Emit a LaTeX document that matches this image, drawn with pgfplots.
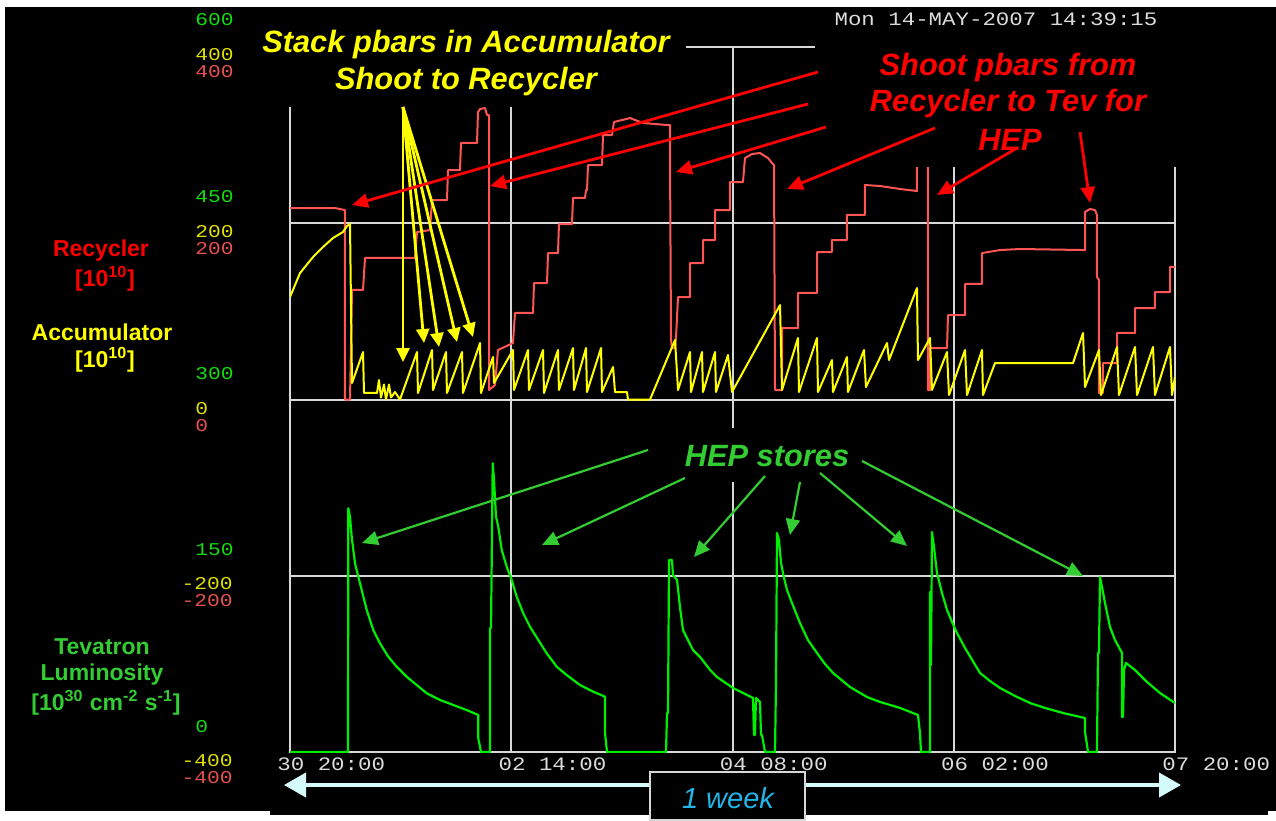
\documentclass[border=0pt]{standalone}
\usepackage{fontspec}
\setmainfont{Liberation Sans}
\setmonofont{Liberation Mono}
\usepackage{graphicx}
\usepackage{pgfplots}
\pgfplotsset{compat=1.18}
\usetikzlibrary{arrows.meta}
\definecolor{gridgray}{HTML}{D8D8D8}
\definecolor{ticklbl}{HTML}{DCDCDC}
\definecolor{datared}{HTML}{FF5555}
\definecolor{datayel}{HTML}{FFFF00}
\definecolor{datagrn}{HTML}{00EE00}
\definecolor{annred}{HTML}{FF0000}
\definecolor{annyel}{HTML}{FFFF00}
\definecolor{anngrn}{HTML}{33CC33}
\definecolor{tickgrn}{HTML}{11DD11}
\definecolor{tickyel}{HTML}{E0E000}
\definecolor{tickred}{HTML}{E85050}
\definecolor{weekcyan}{HTML}{22B4E6}
\definecolor{arrcyan}{HTML}{D4FAFA}
\newcommand\mono[2]{{\ttfamily\fontsize{#1}{#1}\selectfont\scalebox{1.18}[1]{#2}}}
\newcommand\bigtxt[1]{{\bfseries\itshape\fontsize{15.4}{17}\selectfont #1}}
\newcommand\lab[1]{{\bfseries\fontsize{11.5}{13}\selectfont #1}}
\begin{document}
\begin{tikzpicture}
\begin{scope}[x=0.5pt,y=-0.5pt]
\fill[white] (0,0) rectangle (1276,815);
\useasboundingbox (0,0) rectangle (1276,815);
\fill[black] (5,7) rectangle (1276,811);
\fill[black] (270,805) rectangle (1268,815);
\end{scope}

\begin{axis}[at={(145pt,-376pt)}, anchor=south west, scale only axis,
  width=442.5pt, height=352.5pt, xmin=0, xmax=168, ymin=-400, ymax=400,
  axis line style={draw=gridgray, line width=1pt},
  xtick={0,42,84,126,168},
  xticklabels={\mono{9.5}{30 20:00},\mono{9.5}{02 14:00},\mono{9.5}{04 08:00},\mono{9.5}{06 02:00},\mono{9.5}{07 20:00}},
  ytick={-200,0,200}, yticklabels={},
  grid=major, grid style={draw=gridgray, line width=1pt},
  major tick length=0pt,
  x tick label style={anchor=west, inner sep=0pt, xshift=-6.5pt, yshift=-6pt, text=ticklbl},
  clip=true]
\addplot[datared, line width=1pt, line join=round] coordinates {
(0,217.3) (8.54,217.3) (10.44,215.0) (10.44,0) (11.39,0) (11.77,124.3) (13.86,124.3) (14.24,160.6) (23.73,160.6) (24.11,190.1) (26.58,192.3) (26.96,226.4) (29.80,226.4) (29.99,260.4) (32.27,260.4) (32.46,291.1) (35.50,291.1) (35.69,326.2) (36.07,329.6) (37.02,330.8) (37.40,322.8) (37.78,322.8) (37.78,10.8) (38.92,16.5) (39.48,56.2) (42.33,64.1) (42.71,98.2) (46.13,98.2) (46.32,132.2) (48.79,132.2) (48.98,166.2) (50.87,166.2) (51.06,199.1) (53.53,199.1) (53.72,228.7) (56.00,228.7) (56.19,237.7) (56.38,237.7) (56.57,266.1) (59.23,266.1) (59.42,300.1) (61.13,300.1) (61.50,314.9) (64.54,319.4) (67.01,313.8) (71.57,311.5) (72.14,311.5) (72.14,271.8) (72.33,67.5) (72.51,58.4) (73.09,58.4) (73.28,70.9) (73.66,116.3) (75.93,116.3) (75.93,154.9) (78.40,154.9) (78.40,181.0) (80.68,181.0) (80.68,215.0) (83.52,215.0) (83.52,246.8) (85.99,246.8) (86.37,274.0) (87.70,278.6) (89.22,279.7) (90.74,274.0) (91.50,268.4) (91.88,266.1) (92.07,10.8) (93.40,10.8) (93.40,81.1) (96.43,81.1) (96.43,120.9) (100.04,120.9) (100.04,167.4) (102.88,167.4) (102.88,181.0) (105.73,181.0) (105.73,209.4) (109.15,209.4) (109.15,243.4) (112.00,242.3) (115.80,238.9) (119.02,236.6) (119.02,283.1) (121.11,283.1) (121.11,10.8) (121.49,10.8) (121.49,58.4) (124.72,58.4) (124.91,95.9) (128.14,95.9) (128.14,131.1) (131.36,131.1) (131.36,166.2) (134.78,169.6) (138.58,170.8) (150.92,169.6) (150.92,212.8) (151.86,216.2) (152.81,215.0) (153.19,209.4) (153.19,139.0) (153.57,135.6) (153.57,7.4) (154.33,7.4) (154.33,41.4) (156.99,41.4) (156.99,75.5) (160.41,75.5) (160.41,103.8) (164.20,103.8) (164.20,122.0) (167.05,122.0) (167.05,150.4) (168,150.4)
};
\addplot[datayel, line width=1pt, line join=round] coordinates {
(0,116.3) (1.90,143.5) (4.37,161.7) (6.26,173.0) (8.16,183.3) (10.06,190.1) (10.82,196.9) (11.39,199.1) (11.58,107.2) (11.77,18.7) (13.86,53.9) (14.05,7.4) (16.52,7.4) (16.89,22.1) (17.27,2.3) (17.84,17.0) (18.22,0) (18.79,17.0) (19.17,2.3) (19.93,8.5) (20.88,0) (24.11,53.9) (24.30,7.4) (26.96,56.2) (27.15,10.8) (29.61,53.9) (29.80,7.4) (32.65,53.9) (32.84,7.4) (36.07,64.1) (36.26,7.4) (38.54,48.2) (38.73,18.7) (42.33,56.2) (42.52,10.8) (45.18,56.2) (45.37,10.8) (48.03,56.2) (48.22,7.4) (50.87,56.2) (51.06,10.8) (53.72,58.4) (53.91,10.8) (56.19,58.4) (56.38,8.5) (59.04,58.4) (59.23,8.5) (61.32,36.9) (61.70,8.5) (63.97,8.5) (64.16,0) (68.34,0) (73.09,67.5) (73.66,10.8) (75.93,53.9) (76.12,8.5) (78.21,53.9) (78.40,8.5) (80.68,53.9) (80.87,8.5) (83.14,50.5) (83.90,8.5) (93.02,107.2) (93.40,10.8) (96.43,69.8) (96.62,8.5) (100.04,69.8) (100.23,8.5) (102.88,44.8) (103.08,8.5) (105.73,48.2) (105.92,8.5) (108.96,56.2) (109.34,14.2) (113.33,64.1) (113.71,44.8) (119.02,126.5) (119.21,44.8) (121.49,69.8) (121.87,10.8) (124.72,53.9) (125.10,5.1) (128.14,56.2) (128.52,5.1) (131.36,56.2) (131.55,5.1) (133.83,41.4) (148.64,41.4) (150.54,75.5) (150.92,14.2) (153.57,56.2) (153.95,5.1) (156.99,59.6) (157.37,5.1) (160.41,59.6) (160.79,5.1) (163.82,59.6) (164.20,5.1) (167.05,59.6) (167.43,5.1) (168,25.6)
};
\end{axis}

\begin{axis}[at={(145pt,-376pt)}, anchor=south west, scale only axis,
  width=442.5pt, height=352.5pt, xmin=0, xmax=168, ymin=0, ymax=600,
  hide axis, clip=true]
\addplot[datagrn, line width=1.1pt, line join=round] coordinates {
(0,0) (11.01,0) (11.07,207.4) (11.39,200.3) (11.71,183.2) (12.34,160.6) (12.97,149.2) (13.61,137.9) (14.56,120.9) (15.81,103.8) (17.08,92.5) (18.66,81.1) (20.25,72.6) (22.15,64.1) (24.05,57.0) (25.95,50.0) (28.47,44.3) (31.00,40.0) (33.54,35.7) (35.74,31.5) (35.74,11.9) (36.26,0) (37.97,0) (37.97,105.6) (38.16,105.6) (38.48,245.7) (38.73,231.5) (39.10,200.3) (39.54,191.8) (40.19,171.9) (41.14,157.7) (42.09,146.4) (43.03,132.2) (44.29,118.0) (45.56,106.6) (47.14,95.3) (48.73,84.0) (50.63,72.6) (52.53,65.5) (55.05,57.0) (57.58,51.3) (59.80,47.1) (59.80,16.2) (60.18,0) (71.38,0) (71.57,33.2) (71.76,33.2) (71.95,163.4) (72.51,163.4) (72.70,150.6) (73.47,146.4) (74.03,123.4) (74.60,103.8) (75.55,95.3) (76.50,86.8) (77.83,80.9) (79.76,69.8) (81.06,63.8) (84.09,54.5) (87.89,46.0) (88.08,14.5) (88.27,14.5) (88.46,46.0) (89.22,42.6) (89.41,14.5) (89.60,14.5) (90.17,0) (92.07,0) (92.26,61.3) (92.45,186.4) (92.83,180.4) (93.21,160.9) (93.78,148.1) (94.35,137.9) (95.29,126.8) (96.81,109.8) (98.33,95.3) (100.04,84.3) (101.56,74.9) (103.08,67.3) (106.31,55.3) (109.53,46.8) (112.00,42.6) (115.80,37.5) (118.26,33.2) (119.21,31.5) (119.59,16.2) (119.78,0) (121.49,0) (121.49,136.2) (121.68,74.0) (121.87,187.2) (122.25,174.5) (122.82,152.3) (123.77,135.3) (124.72,120.9) (125.67,110.6) (126.61,101.3) (128.14,88.5) (130.98,67.3) (132.88,60.4) (134.78,54.5) (137.63,47.7) (140.47,41.7) (143.32,37.5) (146.74,33.2) (150.92,28.9) (150.92,17.0) (151.49,0) (153.19,0) (153.38,84.3) (153.57,84.3) (153.76,148.9) (154.14,140.4) (154.71,126.8) (155.66,106.4) (156.61,95.3) (157.94,84.3) (157.94,29.8) (158.13,29.8) (158.32,69.8) (158.70,75.8) (160.41,69.8) (162.69,59.6) (165.15,50.2) (168,41.7)
};
\end{axis}

\begin{scope}[x=0.5pt,y=-0.5pt]
% covering boxes
\fill[black] (255,22) rectangle (686,107);
\fill[black] (815,40) rectangle (1180,167);
\fill[black] (680,428) rectangle (858,482);
% left tick labels
\node[anchor=west, inner sep=0pt, text=tickgrn] at (195,20) {\mono{9}{600}};
\node[anchor=west, inner sep=0pt, text=tickyel] at (195,55) {\mono{9}{400}};
\node[anchor=west, inner sep=0pt, text=tickred] at (195,72) {\mono{9}{400}};
\node[anchor=west, inner sep=0pt, text=tickgrn] at (195,197) {\mono{9}{450}};
\node[anchor=west, inner sep=0pt, text=tickyel] at (195,232) {\mono{9}{200}};
\node[anchor=west, inner sep=0pt, text=tickred] at (195,249) {\mono{9}{200}};
\node[anchor=west, inner sep=0pt, text=tickgrn] at (195,374) {\mono{9}{300}};
\node[anchor=west, inner sep=0pt, text=tickyel] at (195,409) {\mono{9}{0}};
\node[anchor=west, inner sep=0pt, text=tickred] at (195,426) {\mono{9}{0}};
\node[anchor=west, inner sep=0pt, text=tickgrn] at (195,550) {\mono{9}{150}};
\node[anchor=east, inner sep=0pt, text=tickyel] at (233,584) {\mono{9}{-200}};
\node[anchor=east, inner sep=0pt, text=tickred] at (233,601) {\mono{9}{-200}};
\node[anchor=west, inner sep=0pt, text=tickgrn] at (195,727) {\mono{9}{0}};
\node[anchor=east, inner sep=0pt, text=tickyel] at (233,761) {\mono{9}{-400}};
\node[anchor=east, inner sep=0pt, text=tickred] at (233,778) {\mono{9}{-400}};
% date
\node[inner sep=0pt, text=ticklbl] at (996,19) {\mono{9.5}{Mon 14-MAY-2007 14:39:15}};
% left labels
\node[text=annred] at (101,251) {\lab{Recycler}};
\node[text=annred] at (105,279) {\lab{[10\textsuperscript{10}]}};
\node[text=annyel] at (102,332) {\lab{Accumulator}};
\node[text=annyel] at (105,360) {\lab{[10\textsuperscript{10}]}};
\node[text=anngrn] at (102,647) {\lab{Tevatron}};
\node[text=anngrn] at (102,675) {\lab{Luminosity}};
\node[text=anngrn] at (106,703) {\lab{[10\textsuperscript{30} cm\textsuperscript{-2} s\textsuperscript{-1}]}};
% annotation texts
\node[text=annyel] at (466,45) {\bigtxt{Stack pbars in Accumulator}};
\node[text=annyel] at (466,82) {\bigtxt{Shoot to Recycler}};
\node[text=annred] at (1008,68) {\bigtxt{Shoot pbars from}};
\node[text=annred] at (1008,104) {\bigtxt{Recycler to Tev for}};
\node[text=annred] at (1010,140) {\bigtxt{HEP}};
\node[text=anngrn] at (767,456) {\bigtxt{HEP stores}};
% yellow arrows
\begin{scope}[annyel, line width=1.4pt, -{Triangle[length=7pt,width=6.5pt]}]
\draw (403,107) -- (403,362);
\draw (403,107) -- (424,343);
\draw (403,107) -- (439,347);
\draw (403,107) -- (457,342);
\draw (403,107) -- (473,337);
\end{scope}
% red arrows
\begin{scope}[annred, line width=1.4pt, -{Triangle[length=8pt,width=7pt]}]
\draw (818,72) -- (352,205);
\draw (808,104) -- (490,186);
\draw (826,127) -- (676,172);
\draw (935,128) -- (787,189);
\draw (1017,148) -- (937,195);
\draw (1080,132) -- (1090,203);
\end{scope}
% green arrows
\begin{scope}[anngrn, line width=1.1pt, -{Triangle[length=8pt,width=7pt]}]
\draw (648,450) -- (362,543);
\draw (685,478) -- (542,545);
\draw (765,476) -- (694,557);
\draw (800,482) -- (790,535);
\draw (820,473) -- (907,546);
\draw (862,461) -- (1083,576);
\end{scope}
% one week arrow
\draw[arrcyan, line width=2pt, {Triangle[length=11pt,width=12pt]}-{Triangle[length=11pt,width=12pt]}] (284,785) -- (1181,785);
\draw[fill=black, draw=gridgray, line width=0.7pt] (650,772) rectangle (805,820);
\node[text=weekcyan] at (728,798) {\itshape\fontsize{14.5}{16}\selectfont 1 week};
\end{scope}
\end{tikzpicture}
\end{document}
